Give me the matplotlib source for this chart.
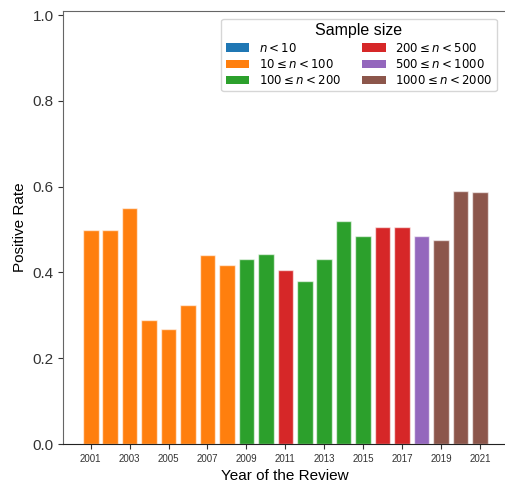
import matplotlib.pyplot as plt
from matplotlib.patches import Patch

plt.rcParams['font.family'] = ['Liberation Sans', 'DejaVu Sans']

years = list(range(2001, 2022))
rates = [0.500, 0.500, 0.551, 0.290, 0.267, 0.323, 0.441, 0.418, 0.431, 0.443,
         0.406, 0.379, 0.431, 0.520, 0.485, 0.505, 0.506, 0.485, 0.475, 0.589, 0.588]
# sample-size bin index per year
bins = [1, 1, 1, 1, 1, 1, 1, 1, 2, 2, 3, 2, 2, 2, 2, 3, 3, 4, 5, 5, 5]
bin_labels = [r'$n<10$', r'$10\leq n<100$', r'$100\leq n<200$',
              r'$200\leq n<500$', r'$500\leq n<1000$', r'$1000\leq n<2000$']
palette = ['#1f77b4', '#ff7f0e', '#2ca02c', '#d62728', '#9467bd', '#8c564b']

fig = plt.figure(figsize=(5.06, 4.84), dpi=100)
ax = fig.add_axes([0.1251, 0.0826, 0.8749, 0.8946])

ax.bar(years, rates, width=0.8, color=[palette[b] for b in bins],
       edgecolor=(1, 1, 1, 0.6), linewidth=1)

ax.set_xlim(1999.59, 2022.34)
ax.set_ylim(0, 1.0093)
ax.set_xticks(years[::2])
ax.tick_params(axis='x', labelsize=7, colors='#333333')
ax.tick_params(axis='y', labelsize=11, colors='#333333')
ax.set_yticks([0, 0.2, 0.4, 0.6, 0.8, 1.0])
ax.set_xlabel('Year of the Review', fontsize=11, labelpad=4)
ax.set_ylabel('Positive Rate', fontsize=11)

ax.spines['right'].set_visible(False)
ax.spines['left'].set_color('#666666')
ax.spines['top'].set_color('#666666')
ax.spines['bottom'].set_color('#222222')

handles = [Patch(facecolor=c, label=l) for c, l in zip(palette, bin_labels)]
leg = ax.legend(handles=handles, title='Sample size', ncol=2, fontsize=8.5,
                title_fontsize=11.5, loc='upper right', bbox_to_anchor=(0.992, 0.995),
                handlelength=2.0, columnspacing=1.8, labelspacing=0.28,
                borderpad=0.35)

fig.savefig('out.png', dpi=100)
